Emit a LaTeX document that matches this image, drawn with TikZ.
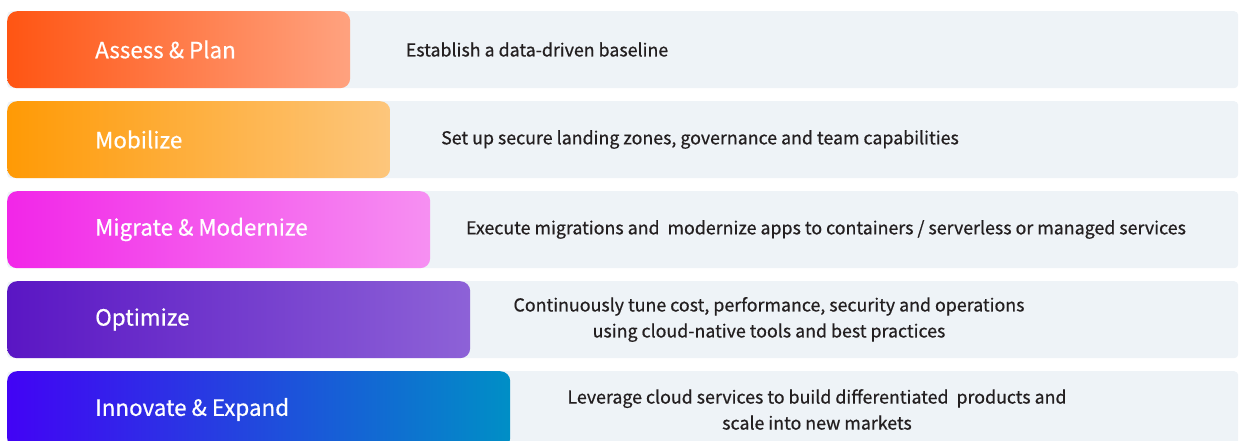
\documentclass[tikz,border=0pt]{standalone}
\usepackage{fontspec}
\setmainfont{Noto Sans CJK SC}
\newfontfamily\descfont{Noto Sans CJK SC}[FakeBold=0.6]
\newfontfamily\labelfont{Noto Sans CJK SC}[FakeBold=0.5]
\usetikzlibrary{positioning}
\definecolor{bandgray}{HTML}{EEF3F7}
\definecolor{textdark}{HTML}{231F20}
\definecolor{assessL}{HTML}{FF5513}
\definecolor{assessR}{HTML}{FFA27F}
\definecolor{mobilL}{HTML}{FF9A05}
\definecolor{mobilR}{HTML}{FDC67C}
\definecolor{migrL}{HTML}{F226E8}
\definecolor{migrR}{HTML}{F690F2}
\definecolor{optL}{HTML}{5A16C4}
\definecolor{optR}{HTML}{8D62D7}
\definecolor{innoL}{HTML}{4203F5}
\definecolor{innoR}{HTML}{008FC6}
\tikzset{
  % Specifications for style of nodes:
  base/.style = {
    rectangle,
    inner sep=0pt,
    anchor=north west,
    minimum height=77pt
  },
  band/.style = {
    base,
    rounded corners=4pt,
    fill=bandgray,
    minimum width=1231pt
  },
  stagebox/.style = {
    base,
    rounded corners=10pt
  },
  stagelabel/.style = {
    anchor=west,
    inner sep=0pt,
    text=white,
    font=\labelfont\fontsize{22.4}{28}\selectfont
  },
  stagetext/.style = {
    inner sep=0pt,
    align=center,
    text=textdark,
    font=\descfont\fontsize{17.8}{26}\selectfont
  },
}
% #1 name, #2 top, #3 box width, #4/#5 colours, #6 label, #7 text centre, #8 text
\def\stage#1#2#3#4#5#6#7#8{
  \begin{scope}
    \node[band] (#1band) at (7, #2) {};
    \node[stagebox, minimum width=#3pt, left color=#4, right color=#5] (#1box) at (7, #2) {};
    \node[stagelabel] (#1label) at (95, #2+38.5) {#6};
    \node[stagetext] (#1desc) at (#7, #2+38.5) {#8};
  \end{scope}
}

\begin{document}
\begin{tikzpicture}[x=1pt, y=-1pt]
    \useasboundingbox (0, 0) rectangle (1239, 441);
    \clip (0, 0) rectangle (1239, 441);
    % one row per stage
    \stage{assess}{11}{343}{assessL}{assessR}{Assess \& Plan}{537}{Establish a data-driven baseline}
    \stage{mobilize}{101}{383}{mobilL}{mobilR}{Mobilize}{700}{Set up secure landing zones, governance and team capabilities}
    \stage{migrate}{191}{423}{migrL}{migrR}{Migrate \& Modernize}{826}{Execute migrations and\ \ modernize apps to containers / serverless or managed services}
    \stage{optimize}{281}{463}{optL}{optR}{Optimize}{769}{Continuously tune cost, performance, security and operations\\using cloud-native tools and best practices}
    \stage{innovate}{371}{503}{innoL}{innoR}{Innovate \& Expand}{817}{Leverage cloud services to build differentiated\ \ products and\\scale into new markets}
  \end{tikzpicture}
\end{document}
